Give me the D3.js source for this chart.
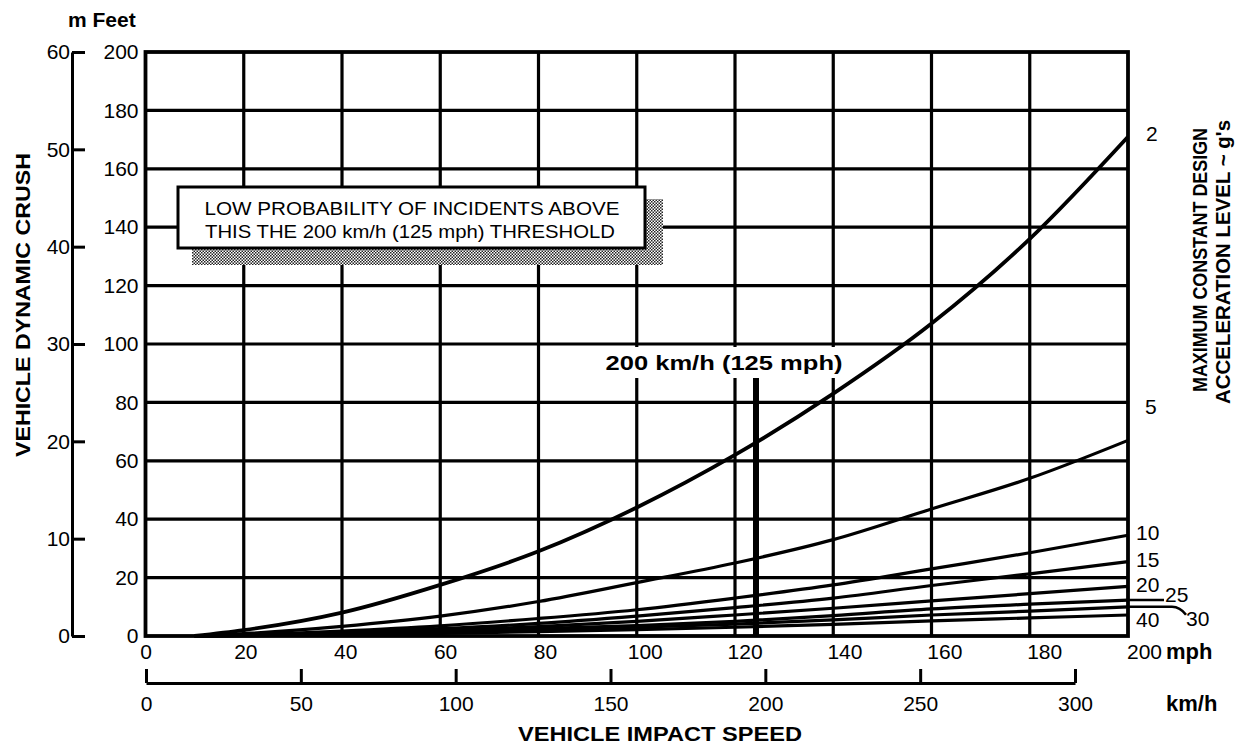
<!DOCTYPE html>
<html>
<head>
<meta charset="utf-8">
<script src="https://cdn.jsdelivr.net/npm/d3@7"></script>
<style>
  body { margin: 0; background: #fff; }
  svg { display: block; font-family: "Liberation Sans", Arial, Helvetica, sans-serif; }
  .tick text { font-size: 21px; fill: #000; }
</style>
</head>
<body>
<div id="chart"></div>
<script>
// axis ticks
var mphTicks = [0, 20, 40, 60, 80, 100, 120, 140, 160, 180, 200];
var kmhTicks = [0, 50, 100, 150, 200, 250, 300];
var feetTicks = [0, 20, 40, 60, 80, 100, 120, 140, 160, 180, 200];
var meterTicks = [0, 10, 20, 30, 40, 50, 60];

// speed (mph) where crush was read for each curve
var speedMph = [10, 20, 40, 60, 80, 100, 120, 140, 160, 180, 200];

// dynamic crush in feet, one list per acceleration level (g's)
var gLevels = [2, 5, 10, 15, 20, 25, 30, 40];
var crush2 = [0, 2, 8, 17.5, 29, 44, 62, 83, 107, 136, 171];
var crush5 = [0, 0.8, 3.3, 6.8, 11.8, 18.3, 25, 33, 43.5, 54, 67];
var crush10 = [0, 0.4, 1.7, 3.5, 6, 9, 13, 17.5, 23, 28.5, 34.5];
var crush15 = [0, 0.3, 1.2, 2.5, 4.3, 6.8, 9.7, 13, 17.3, 21.3, 25.5];
var crush20 = [0, 0.2, 0.9, 1.9, 3.2, 5, 7.2, 9.5, 12, 14.5, 17];
var crush25 = [0, 0.2, 0.7, 1.5, 2.5, 3.6, 5, 7, 9.3, 10.9, 12.3];
var crush30 = [0, 0.1, 0.6, 1.2, 2, 3, 4.1, 5.5, 7.2, 8.5, 10];
var crush40 = [0, 0.1, 0.4, 0.9, 1.5, 2.2, 3, 4, 5.2, 6.2, 7.2];

var thresholdKmh = 200;

var width = 1236, height = 747;
// plot box (window.top is reserved, so prefixed names)
var pLeft = 145.5, pRight = 1128, pTop = 52, pBottom = 636;

var svg = d3.select('#chart').append('svg')
  .attr('width', width)
  .attr('height', height);

svg.append('rect').attr('width', width).attr('height', height).attr('fill', '#fff');

// hatched shadow pattern
var pat = svg.append('defs').append('pattern')
  .attr('id', 'dots')
  .attr('patternUnits', 'userSpaceOnUse')
  .attr('width', 3).attr('height', 3);
pat.append('rect').attr('width', 3).attr('height', 3).attr('fill', '#fff');
pat.append('rect').attr('width', 1.5).attr('height', 1.5).attr('fill', '#222');
pat.append('rect').attr('x', 1.5).attr('y', 1.5).attr('width', 1.5).attr('height', 1.5).attr('fill', '#222');

var x = d3.scaleLinear().domain([0, 200]).range([pLeft, pRight]);
var y = d3.scaleLinear().domain([0, 200]).range([pBottom, pTop]);
var yM = d3.scaleLinear().domain([0, 60]).range([pBottom, pTop]);
var xK = d3.scaleLinear().domain([0, 300]).range([146, 1075]);

// grid
var grid = svg.append('g').attr('stroke', '#000').attr('stroke-width', 3.2);
grid.selectAll('.hg').data(feetTicks.slice(1, -1)).enter().append('line')
  .attr('x1', pLeft).attr('x2', pRight)
  .attr('y1', function (d) { return y(d); })
  .attr('y2', function (d) { return y(d); });
grid.selectAll('.vg').data(mphTicks.slice(1, -1)).enter().append('line')
  .attr('y1', pTop).attr('y2', pBottom)
  .attr('x1', function (d) { return x(d); })
  .attr('x2', function (d) { return x(d); });

// curves
var series = [crush2, crush5, crush10, crush15, crush20, crush25, crush30, crush40];
var line = d3.line()
  .x(function (d, i) { return x(speedMph[i]); })
  .y(function (d) { return y(d); })
  .curve(d3.curveMonotoneX);

svg.append('g').selectAll('path').data(series).enter().append('path')
  .attr('d', line)
  .attr('fill', 'none')
  .attr('stroke', '#000')
  .attr('stroke-width', function (d, i) { return i === 0 ? 3.8 : 3.2; });

// border
svg.append('rect')
  .attr('x', pLeft).attr('y', pTop)
  .attr('width', pRight - pLeft).attr('height', pBottom - pTop)
  .attr('fill', 'none').attr('stroke', '#000').attr('stroke-width', 3.8);

// feet axis
var feetAxis = svg.append('g')
  .attr('transform', 'translate(' + pLeft + ',0)')
  .call(d3.axisLeft(y).tickValues(feetTicks).tickSize(0).tickPadding(7));
feetAxis.select('.domain').remove();

// meter axis
var meterAxis = svg.append('g')
  .attr('transform', 'translate(72,0)')
  .call(d3.axisLeft(yM).tickValues(meterTicks).tickSizeInner(-13).tickSizeOuter(0).tickPadding(2));
meterAxis.selectAll('line, path').attr('stroke', '#000').attr('stroke-width', 3);

// mph axis
var mphAxis = svg.append('g')
  .attr('transform', 'translate(0,' + pBottom + ')')
  .call(d3.axisBottom(x).tickValues(mphTicks).tickSize(0).tickPadding(8));
mphAxis.select('.domain').remove();
mphAxis.selectAll('.tick text').attr('dx', function (d) { return d * 0.08; });

// km/h axis
var kmhAxis = svg.append('g')
  .attr('transform', 'translate(0,683)')
  .call(d3.axisBottom(xK).tickValues(kmhTicks).tickSizeInner(-14).tickSizeOuter(0).tickPadding(13));
kmhAxis.selectAll('line, path').attr('stroke', '#000').attr('stroke-width', 3);

// unit labels
svg.append('text').attr('x', 1166).attr('y', 659)
  .attr('font-size', 22).attr('font-weight', 'bold').text('mph');
svg.append('text').attr('x', 1166).attr('y', 711)
  .attr('font-size', 22).attr('font-weight', 'bold').text('km/h');
svg.append('text').attr('x', 68).attr('y', 27)
  .attr('font-size', 21).attr('font-weight', 'bold').text('m Feet');

// axis titles
svg.append('text')
  .attr('transform', 'translate(30,305) rotate(-90)')
  .attr('text-anchor', 'middle')
  .attr('font-size', 21).attr('font-weight', 'bold')
  .attr('textLength', 304).attr('lengthAdjust', 'spacingAndGlyphs')
  .text('VEHICLE DYNAMIC CRUSH');
svg.append('text')
  .attr('x', 660).attr('y', 741)
  .attr('text-anchor', 'middle')
  .attr('font-size', 21).attr('font-weight', 'bold')
  .attr('textLength', 284).attr('lengthAdjust', 'spacingAndGlyphs')
  .text('VEHICLE IMPACT SPEED');
svg.append('text')
  .attr('transform', 'translate(1207,260) rotate(-90)')
  .attr('text-anchor', 'middle')
  .attr('font-size', 21).attr('font-weight', 'bold')
  .attr('textLength', 264).attr('lengthAdjust', 'spacingAndGlyphs')
  .text('MAXIMUM CONSTANT DESIGN');
svg.append('text')
  .attr('transform', 'translate(1230,262) rotate(-90)')
  .attr('text-anchor', 'middle')
  .attr('font-size', 21).attr('font-weight', 'bold')
  .attr('textLength', 284).attr('lengthAdjust', 'spacingAndGlyphs')
  .text("ACCELERATION LEVEL ~ g's");

// curve labels at the right edge
var labelOffsets = {
  2: [18, 4], 5: [17, -26], 10: [8, 5], 15: [8, 5.5],
  20: [8, 5.5], 25: [37, 2], 30: [58, 19], 40: [8, 12]
};
svg.append('g').selectAll('text').data(gLevels).enter().append('text')
  .attr('x', function (g) { return x(200) + labelOffsets[g][0]; })
  .attr('y', function (g, i) { return y(series[i][series[i].length - 1]) + labelOffsets[g][1]; })
  .attr('font-size', 21)
  .text(function (g) { return g; });

// leaders for 25 and 30
var y25 = y(crush25[crush25.length - 1]);
var y30 = y(crush30[crush30.length - 1]);
svg.append('path')
  .attr('d', 'M' + pRight + ',' + y25 + 'H' + (pRight + 36))
  .attr('stroke', '#000').attr('stroke-width', 2.5).attr('fill', 'none');
svg.append('path')
  .attr('d', 'M' + pRight + ',' + y30 + 'H' + (pRight + 44) + 'Q' + (pRight + 52) + ',' + y30 + ' ' + (pRight + 58) + ',' + (y30 + 8))
  .attr('stroke', '#000').attr('stroke-width', 2.5).attr('fill', 'none');

// threshold marker
var xT = x(thresholdKmh / 1.609344);
svg.append('rect')
  .attr('x', 600).attr('y', 347).attr('width', 246).attr('height', 31)
  .attr('fill', '#fff');
svg.append('text')
  .attr('x', 724).attr('y', 370)
  .attr('text-anchor', 'middle')
  .attr('font-size', 21).attr('font-weight', 'bold')
  .attr('textLength', 237).attr('lengthAdjust', 'spacingAndGlyphs')
  .text('200 km/h (125 mph)');
svg.append('line')
  .attr('x1', xT).attr('x2', xT)
  .attr('y1', 378).attr('y2', pBottom)
  .attr('stroke', '#000').attr('stroke-width', 6);

// note box with shadow
svg.append('rect')
  .attr('x', 192).attr('y', 199).attr('width', 471).attr('height', 66)
  .attr('fill', 'url(#dots)');
svg.append('rect')
  .attr('x', 178).attr('y', 187).attr('width', 467).attr('height', 61)
  .attr('fill', '#fff').attr('stroke', '#000').attr('stroke-width', 3);
svg.append('text')
  .attr('x', 412).attr('y', 215)
  .attr('text-anchor', 'middle').attr('font-size', 19)
  .attr('textLength', 415).attr('lengthAdjust', 'spacingAndGlyphs')
  .text('LOW PROBABILITY OF INCIDENTS ABOVE');
svg.append('text')
  .attr('x', 410).attr('y', 238)
  .attr('text-anchor', 'middle').attr('font-size', 19)
  .attr('textLength', 410).attr('lengthAdjust', 'spacingAndGlyphs')
  .text('THIS THE 200 km/h (125 mph) THRESHOLD');
</script>
</body>
</html>
